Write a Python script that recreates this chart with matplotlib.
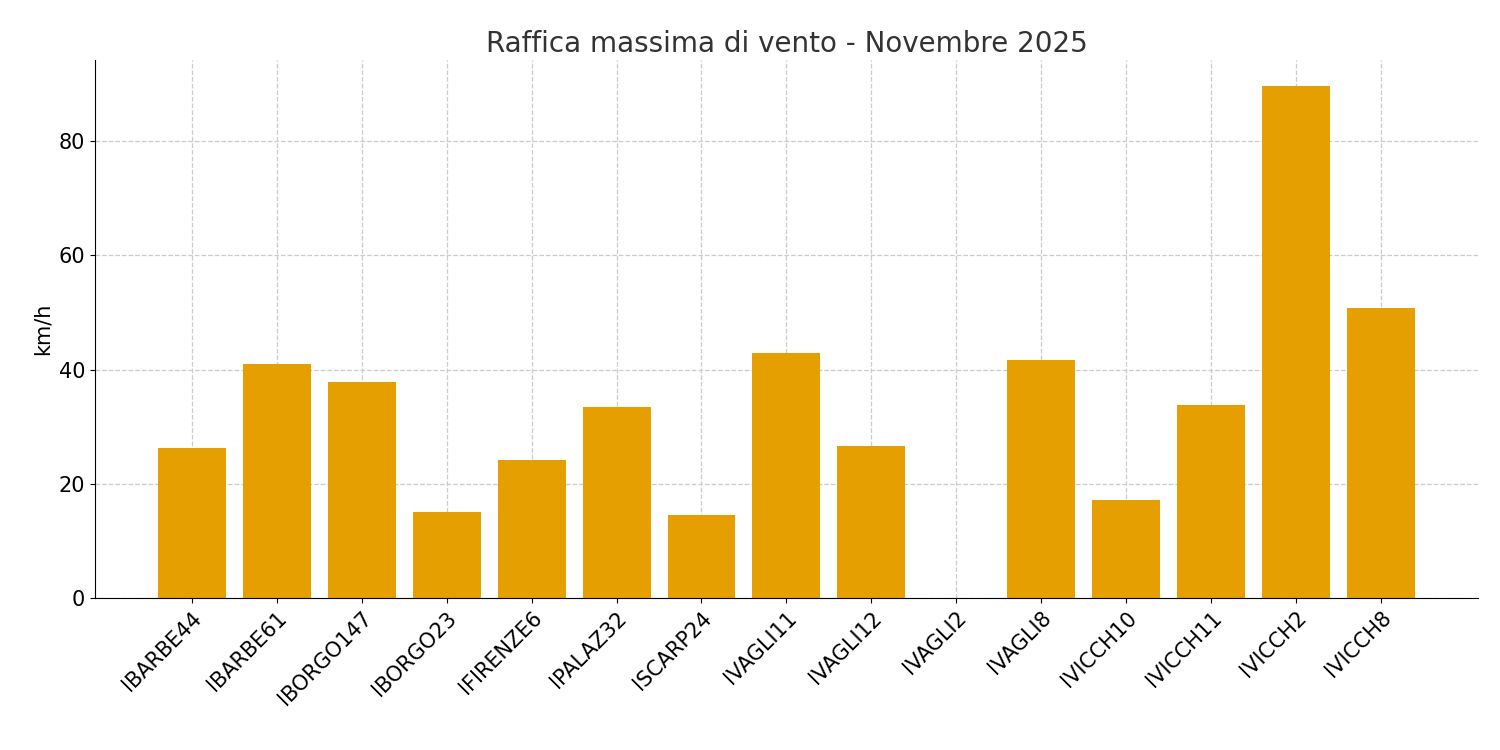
import matplotlib
matplotlib.use('Agg')
import matplotlib.pyplot as plt
import numpy as np

stations = ['IBARBE44', 'IBARBE61', 'IBORGO147', 'IBORGO23', 'IFIRENZE6', 'IPALAZ32',
            'ISCARP24', 'IVAGLI11', 'IVAGLI12', 'IVAGLI2', 'IVAGLI8', 'IVICCH10',
            'IVICCH11', 'IVICCH2', 'IVICCH8']
gust_kmh = [26.3, 41.0, 37.8, 15.1, 24.2, 33.4, 14.5, 42.9, 26.6, 0.0, 41.7, 17.2,
            33.8, 89.7, 50.8]

fig, ax = plt.subplots(figsize=(15, 7.5), dpi=100)
x = np.arange(len(stations))
ax.bar(x, gust_kmh, width=0.8, color='#E69F00', zorder=2)

ax.set_xticks(x)
ax.set_xticklabels(stations, rotation=45, ha='right', rotation_mode='anchor', fontsize=15)
ax.tick_params(axis='y', labelsize=15)
ax.set_xlim(-1.14, len(stations) - 1 + 1.14)
ax.set_ylim(0, 94.2)
ax.set_yticks([0, 20, 40, 60, 80])

ax.set_title("Raffica massima di vento - Novembre 2025", fontsize=20, color='#333333')
ax.set_ylabel("km/h", fontsize=15)
ax.grid(linestyle='--', color='#cccccc', linewidth=0.9, zorder=0)
ax.spines['top'].set_visible(False)
ax.spines['right'].set_visible(False)

fig.subplots_adjust(left=0.0633, right=0.9853, top=0.92, bottom=0.2027)
fig.savefig('out.png')
